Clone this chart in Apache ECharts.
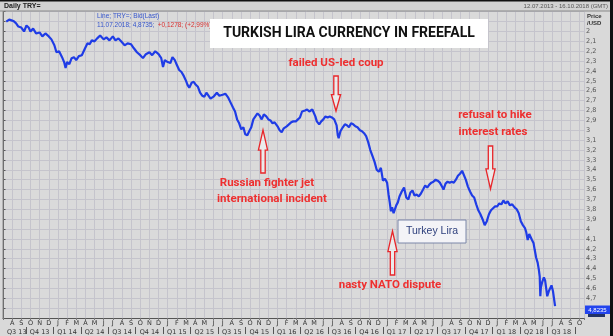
<!DOCTYPE html>
<html><head><meta charset="utf-8">
<script src="https://cdn.jsdelivr.net/npm/echarts@6/dist/echarts.min.js"></script>
<style>html,body{margin:0;padding:0;background:#d9d9d9}#c{width:613px;height:336px}</style>
</head><body><div id="c"></div><script>
const dates = ['2013-07-12','2013-07-22','2013-08-01','2013-08-08','2013-08-15','2013-08-22','2013-09-01','2013-09-06','2013-09-10','2013-09-18','2013-09-25','2013-10-01','2013-10-10','2013-10-20','2013-11-01','2013-11-10','2013-11-20','2013-12-01','2013-12-10','2013-12-20','2013-12-27',
'2014-01-05','2014-01-15','2014-01-22','2014-01-27','2014-02-01','2014-02-08','2014-02-15','2014-02-22','2014-03-01','2014-03-10','2014-03-20','2014-03-31','2014-04-08','2014-04-15','2014-04-22','2014-05-01','2014-05-10','2014-05-20','2014-06-01','2014-06-10','2014-06-20','2014-07-01','2014-07-10','2014-07-20','2014-08-01','2014-08-10','2014-08-20','2014-09-01','2014-09-10','2014-09-20','2014-10-01','2014-10-10','2014-10-20','2014-11-01','2014-11-10','2014-11-20','2014-12-01','2014-12-10','2014-12-16','2014-12-22',
'2015-01-01','2015-01-10','2015-01-17','2015-01-25','2015-02-01','2015-02-08','2015-02-15','2015-02-22','2015-03-01','2015-03-06','2015-03-12','2015-03-20','2015-03-27','2015-04-03','2015-04-10','2015-04-17','2015-04-24','2015-05-01','2015-05-08','2015-05-15','2015-05-22','2015-06-01','2015-06-05','2015-06-12','2015-06-20','2015-07-01','2015-07-10','2015-07-20','2015-07-28','2015-08-05','2015-08-12','2015-08-19','2015-08-26','2015-09-02','2015-09-09','2015-09-15','2015-09-22','2015-09-28','2015-10-05','2015-10-12','2015-10-19','2015-10-26','2015-11-02','2015-11-09','2015-11-16','2015-11-24','2015-12-01','2015-12-08','2015-12-15','2015-12-22',
'2016-01-01','2016-01-08','2016-01-15','2016-01-22','2016-02-01','2016-02-08','2016-02-15','2016-02-22','2016-03-01','2016-03-08','2016-03-15','2016-03-22','2016-04-01','2016-04-08','2016-04-15','2016-04-25','2016-05-01','2016-05-05','2016-05-10','2016-05-18','2016-05-25','2016-06-01','2016-06-08','2016-06-15','2016-06-22','2016-06-29','2016-07-07','2016-07-15','2016-07-19','2016-07-22','2016-07-28','2016-08-05','2016-08-12','2016-08-19','2016-08-26','2016-09-02','2016-09-09','2016-09-16','2016-09-23','2016-10-01','2016-10-08','2016-10-15','2016-10-22','2016-10-29','2016-11-05','2016-11-12','2016-11-19','2016-11-26','2016-12-03','2016-12-10','2016-12-17','2016-12-24','2016-12-31',
'2017-01-05','2017-01-09','2017-01-13','2017-01-17','2017-01-22','2017-01-27','2017-01-31','2017-02-05','2017-02-10','2017-02-17','2017-02-24','2017-03-03','2017-03-10','2017-03-17','2017-03-24','2017-03-31','2017-04-07','2017-04-14','2017-04-21','2017-04-28','2017-05-05','2017-05-12','2017-05-19','2017-05-26','2017-06-02','2017-06-09','2017-06-16','2017-06-23','2017-06-30','2017-07-05','2017-07-12','2017-07-19','2017-07-26','2017-08-02','2017-08-09','2017-08-16','2017-08-23','2017-08-30','2017-09-06','2017-09-12','2017-09-18','2017-09-25','2017-10-02','2017-10-09','2017-10-16','2017-10-23','2017-10-30','2017-11-06','2017-11-13','2017-11-20','2017-11-27','2017-12-04','2017-12-11','2017-12-18','2017-12-25',
'2018-01-01','2018-01-08','2018-01-15','2018-01-22','2018-01-29','2018-02-05','2018-02-12','2018-02-19','2018-02-26','2018-03-05','2018-03-12','2018-03-19','2018-03-26','2018-04-02','2018-04-06','2018-04-11','2018-04-16','2018-04-20','2018-04-25','2018-04-30','2018-05-04','2018-05-09','2018-05-14','2018-05-18','2018-05-21','2018-05-23','2018-05-25','2018-05-29','2018-06-04','2018-06-08','2018-06-12','2018-06-15','2018-06-20','2018-06-26','2018-06-29','2018-07-04','2018-07-11'];
const values = [1.90,1.88,1.89,1.90,1.92,1.95,1.96,1.98,2.00,1.94,1.96,2.00,1.97,2.02,2.01,2.05,2.02,2.05,2.08,2.14,2.21,
2.20,2.26,2.31,2.37,2.31,2.33,2.27,2.26,2.29,2.25,2.24,2.17,2.12,2.13,2.09,2.10,2.07,2.04,2.08,2.06,2.09,2.05,2.09,2.07,2.11,2.14,2.12,2.13,2.17,2.21,2.24,2.27,2.23,2.21,2.24,2.20,2.23,2.27,2.36,2.29,
2.31,2.32,2.26,2.29,2.34,2.39,2.41,2.45,2.50,2.54,2.57,2.52,2.51,2.54,2.56,2.62,2.65,2.66,2.62,2.65,2.68,2.66,2.67,2.62,2.65,2.64,2.63,2.67,2.72,2.77,2.81,2.89,2.93,2.99,2.97,3.04,3.05,3.01,2.97,2.89,2.86,2.83,2.85,2.89,2.84,2.86,2.89,2.90,2.93,2.92,
2.96,3.00,3.02,2.98,2.96,2.94,2.92,2.91,2.91,2.89,2.87,2.81,2.80,2.79,2.81,2.79,2.77,2.86,2.91,2.94,2.91,2.89,2.86,2.87,2.86,2.87,2.89,2.95,3.05,3.08,3.01,2.97,2.94,2.95,2.97,2.93,2.94,2.96,2.97,3.00,3.01,3.03,3.06,3.12,3.20,3.26,3.32,3.40,3.42,3.38,3.51,3.49,3.53,
3.65,3.73,3.82,3.78,3.84,3.85,3.76,3.73,3.67,3.62,3.58,3.68,3.70,3.63,3.61,3.66,3.65,3.67,3.64,3.60,3.56,3.58,3.55,3.53,3.52,3.50,3.51,3.53,3.57,3.60,3.54,3.52,3.53,3.52,3.53,3.50,3.46,3.44,3.41,3.43,3.50,3.57,3.62,3.66,3.68,3.75,3.81,3.85,3.90,3.96,3.92,3.85,3.81,3.79,3.77,
3.77,3.74,3.75,3.71,3.74,3.72,3.76,3.75,3.78,3.80,3.84,3.92,3.96,3.99,4.03,4.11,4.05,4.06,4.11,4.14,4.21,4.29,4.34,4.41,4.48,4.68,4.59,4.54,4.49,4.52,4.61,4.68,4.63,4.61,4.57,4.63,4.78];
const monthLetters = ['J','A','S','O','N','D','J','F','M','A','M','J']; // starting July
const quarterLabels = ['Q3 13','Q4 13','Q1 14','Q2 14','Q3 14','Q4 14','Q1 15','Q2 15','Q3 15','Q4 15','Q1 16','Q2 16','Q3 16','Q4 16','Q1 17','Q2 17','Q3 17','Q4 17','Q1 18','Q2 18','Q3 18'];
const axisStart = '2013-07-01', axisEnd = '2018-10-16';

function monthIndex(s){
  const [y,m,d] = s.split('-').map(Number);
  const dim = new Date(y, m, 0).getDate();
  return (y-2013)*12 + (m-7) + (d-1)/dim;
}
const xMax = monthIndex(axisEnd);
const seriesData = dates.map((d,i)=>[monthIndex(d), values[i]]);
const qCenters = quarterLabels.map((q,i)=> i===0 ? 1.5 : 3*i+1);
const qSeps = quarterLabels.map((q,i)=> 3*i+2.5);

function arrow(cx, tailY, tipY){
  const dir = Math.sign(tipY-tailY), len = Math.abs(tipY-tailY);
  const hb = tipY - dir*len*0.47;
  return {type:'polygon', z:50, shape:{points:[[cx-2.2,tailY],[cx+2.2,tailY],[cx+2.2,hb],[cx+4.6,hb],[cx,tipY],[cx-4.6,hb],[cx-2.2,hb]]},
    style:{fill:'rgba(255,255,255,0.45)', stroke:'#e8262a', lineWidth:1.3}};
}
function redText(x,y,t){
  return {type:'text', z:50, x:x, y:y, style:{text:t, fill:'#ee2f2f', font:'bold 11.5px Roboto', align:'center', verticalAlign:'middle'}};
}

const chart = echarts.init(document.getElementById('c'), null, {renderer:'canvas'});
chart.setOption({
  animation:false,
  backgroundColor:'#d9d9d9',
  grid:{left:0, top:11.7, width:584, height:306.9, show:true, backgroundColor:'#dadada', borderColor:'#777', borderWidth:0},
  xAxis:[{
    type:'value', min:0, max:xMax, interval:1, position:'bottom',
    axisLine:{show:true, lineStyle:{color:'#555', width:1}},
    axisTick:{show:true, length:2, lineStyle:{color:'#777'}},
    splitLine:{show:true, lineStyle:{color:'#c5c4cc', width:1}},
    axisLabel:{margin:2, fontSize:6.5, color:'#333', fontFamily:'DejaVu Sans',
      formatter:v=>{ if (v<0.5 || Math.abs(v-Math.round(v))>1e-6) return ''; return monthLetters[Math.round(v)%12]; }}
  },{
    type:'value', min:0, max:xMax, position:'bottom', offset:9,
    axisLine:{show:false}, splitLine:{show:false},
    axisTick:{show:true, customValues:qSeps, length:7, lineStyle:{color:'#555'}},
    axisLabel:{customValues:qCenters, margin:2, fontSize:6.5, color:'#333', fontFamily:'DejaVu Sans',
      formatter:v=>{ const i = qCenters.findIndex(c=>Math.abs(c-v)<1e-6); return i>=0 ? quarterLabels[i] : ''; }}
  }],
  yAxis:{
    type:'value', inverse:true, min:1.8, max:4.9, interval:0.1, position:'right',
    axisLine:{show:true, lineStyle:{color:'#555'}},
    axisTick:{show:true, length:2.5, lineStyle:{color:'#555'}},
    splitLine:{show:true, lineStyle:{color:'#c5c4cc', width:1}},
    axisLabel:{margin:2, fontSize:6.5, color:'#555', fontFamily:'DejaVu Sans',
      formatter:v=>{ const r = Math.round(v*10)/10; if (r<2 || r>4.7) return ''; return Number.isInteger(r) ? String(r) : r.toFixed(1).replace('.',','); }}
  },
  series:[{type:'line', data:seriesData, showSymbol:false, lineStyle:{color:'#1f3ce6', width:2.2}, z:10}],
  graphic:[
    {type:'rect', z:40, shape:{x:0,y:0,width:613,height:11}, style:{fill:'#d2d2d2'}},
    {type:'line', z:41, shape:{x1:0,y1:11,x2:613,y2:11}, style:{stroke:'#8a8a8a', lineWidth:1}},
    {type:'rect', z:42, shape:{x:0,y:0,width:613,height:1.5}, style:{fill:'#111'}},
    {type:'rect', z:42, shape:{x:610,y:0,width:3,height:336}, style:{fill:'#111'}},
    {type:'line', z:41, shape:{x1:3,y1:11,x2:3,y2:319}, style:{stroke:'#8a8a8a', lineWidth:1}},
    {type:'text', z:43, x:4, y:6.5, style:{text:'Daily TRY=', fill:'#222', font:'bold 7px "Liberation Sans"', verticalAlign:'middle'}},
    {type:'text', z:43, x:608, y:6.5, style:{text:'12.07.2013 - 16.10.2018 (GMT)', fill:'#555', font:'6px "Liberation Sans"', align:'right', verticalAlign:'middle'}},
    {type:'text', z:43, x:587, y:16, style:{text:'Price', fill:'#333', font:'bold 6px "Liberation Sans"', verticalAlign:'middle'}},
    {type:'text', z:43, x:587, y:23, style:{text:'/USD', fill:'#333', font:'bold 6px "Liberation Sans"', verticalAlign:'middle'}},
    {type:'text', z:43, x:97, y:16, style:{text:'Line; TRY=; Bid(Last)', fill:'#3555cc', font:'6.5px "Liberation Sans"', verticalAlign:'middle'}},
    {type:'text', z:43, x:97, y:25, style:{text:'{b|11.07.2018; 4,8735;} {r|+0,1278; (+2,99%)}', verticalAlign:'middle',
      rich:{b:{fill:'#3555cc', font:'6.5px "Liberation Sans"'}, r:{fill:'#d83030', font:'6.5px "Liberation Sans"'}}}},
    {type:'rect', z:45, shape:{x:210,y:19,width:278,height:29}, style:{fill:'#ffffff'}},
    {type:'text', z:46, x:349, y:33.5, style:{text:'TURKISH LIRA CURRENCY IN FREEFALL', fill:'#111', font:'bold 14px Roboto', align:'center', verticalAlign:'middle'}},
    redText(336,63,'failed US-led coup'),
    arrow(336,76,111),
    redText(495,115,'refusal to hike'),
    redText(493,132,'interest rates'),
    arrow(490.5,146,189),
    arrow(263,173,130),
    redText(267,183,'Russian fighter jet'),
    redText(272,199,'international incident'),
    arrow(392.5,275,231),
    redText(390,285,'nasty NATO dispute'),
    {type:'rect', z:45, shape:{x:398,y:220,width:68,height:23}, style:{fill:'#f3f3f7', stroke:'#7a86a8', lineWidth:1}},
    {type:'text', z:46, x:432, y:231.5, style:{text:'Turkey Lira', fill:'#2d3f7c', font:'10.5px "Liberation Sans"', align:'center', verticalAlign:'middle'}},
    {type:'rect', z:45, shape:{x:585,y:305.5,width:25,height:8.5}, style:{fill:'#2244ee'}},
    {type:'text', z:46, x:597.5, y:310, style:{text:'4,8235', fill:'#fff', font:'6px "Liberation Sans"', align:'center', verticalAlign:'middle'}},
    {type:'rect', z:45, shape:{x:588,y:314,width:17,height:3}, style:{fill:'#223366'}}
  ]
});
</script></body></html>
